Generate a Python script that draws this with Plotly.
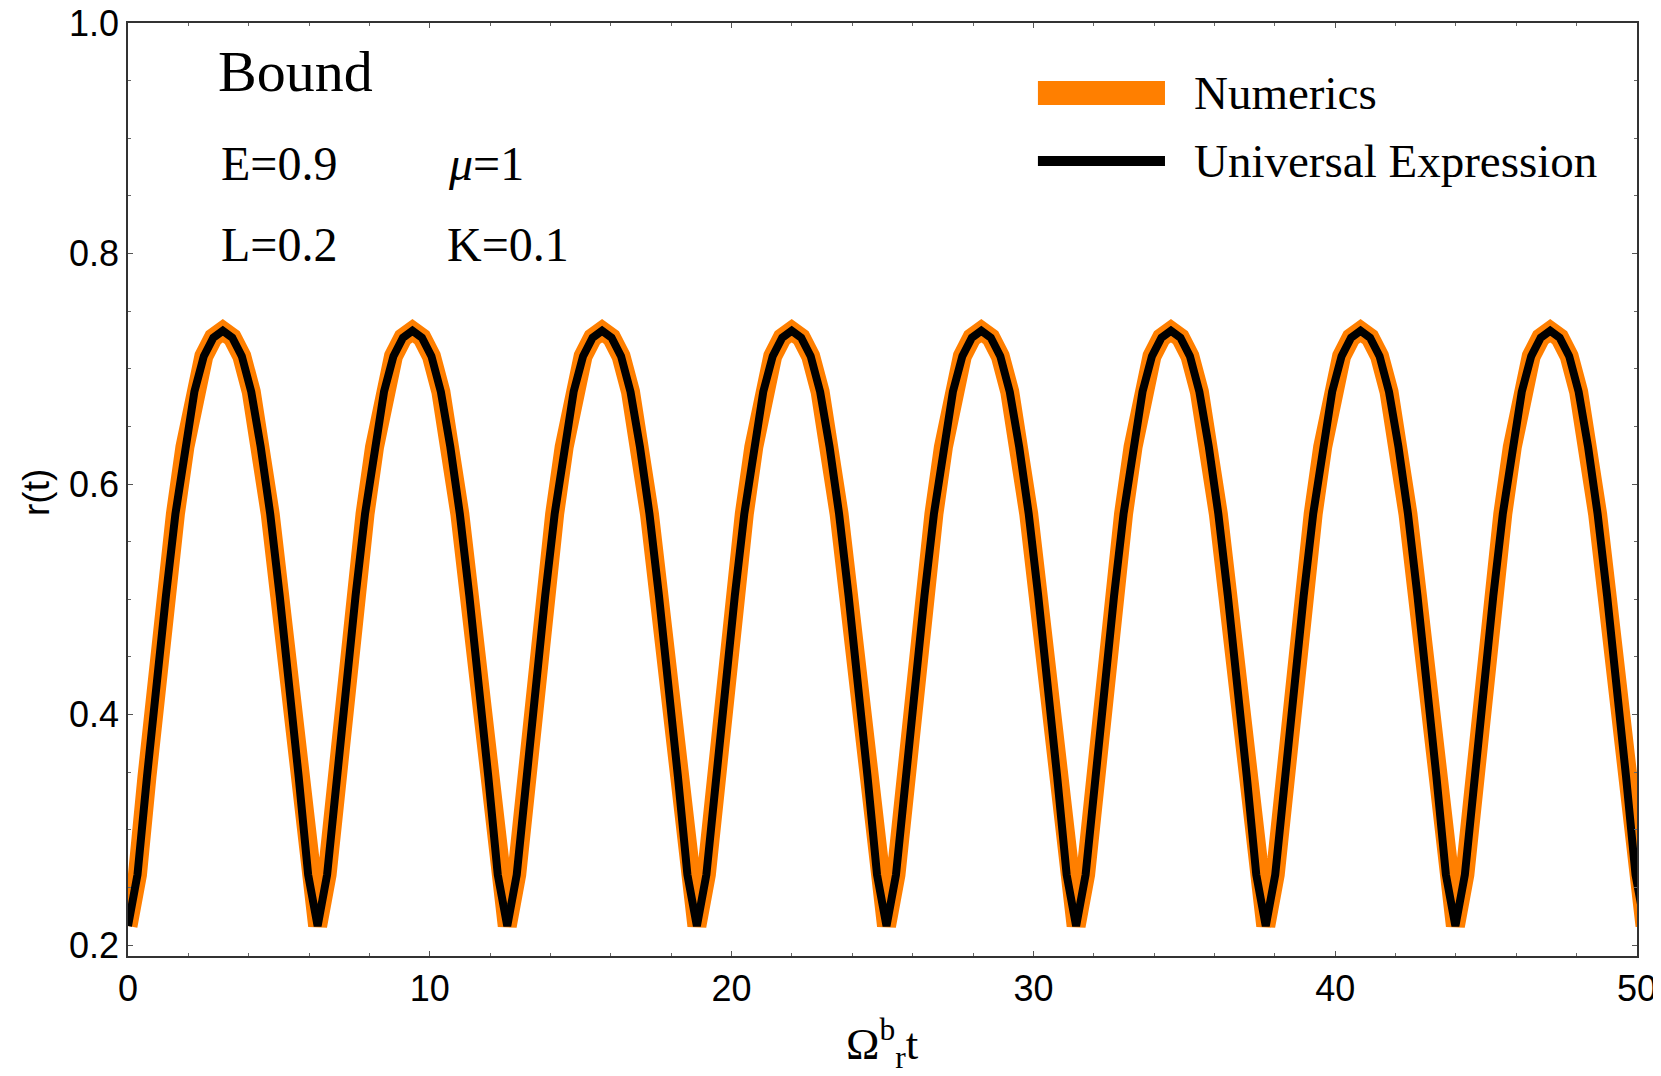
"""Bound orbit r(t): numerical solution vs the universal expression."""

import plotly.graph_objects as go

# sample spacing of both curves along Omega_r^b t (pi/10)
T_STEP = 0.3141593

# r(t), one value per T_STEP starting at t = 0
R_NUMERICS = [
    0.2165, 0.261, 0.346, 0.428, 0.503, 0.574, 0.632, 0.680, 0.711, 0.727,
    0.733, 0.727, 0.711, 0.680, 0.632, 0.574, 0.503, 0.428, 0.346, 0.261,
    0.2165, 0.261, 0.346, 0.428, 0.503, 0.574, 0.632, 0.680, 0.711, 0.727,
    0.733, 0.727, 0.711, 0.680, 0.632, 0.574, 0.503, 0.428, 0.346, 0.261,
    0.2165, 0.261, 0.346, 0.428, 0.503, 0.574, 0.632, 0.680, 0.711, 0.727,
    0.733, 0.727, 0.711, 0.680, 0.632, 0.574, 0.503, 0.428, 0.346, 0.261,
    0.2165, 0.261, 0.346, 0.428, 0.503, 0.574, 0.632, 0.680, 0.711, 0.727,
    0.733, 0.727, 0.711, 0.680, 0.632, 0.574, 0.503, 0.428, 0.346, 0.261,
    0.2165, 0.261, 0.346, 0.428, 0.503, 0.574, 0.632, 0.680, 0.711, 0.727,
    0.733, 0.727, 0.711, 0.680, 0.632, 0.574, 0.503, 0.428, 0.346, 0.261,
    0.2165, 0.261, 0.346, 0.428, 0.503, 0.574, 0.632, 0.680, 0.711, 0.727,
    0.733, 0.727, 0.711, 0.680, 0.632, 0.574, 0.503, 0.428, 0.346, 0.261,
    0.2165, 0.261, 0.346, 0.428, 0.503, 0.574, 0.632, 0.680, 0.711, 0.727,
    0.733, 0.727, 0.711, 0.680, 0.632, 0.574, 0.503, 0.428, 0.346, 0.261,
    0.2165, 0.261, 0.346, 0.428, 0.503, 0.574, 0.632, 0.680, 0.711, 0.727,
    0.733, 0.727, 0.711, 0.680, 0.632, 0.574, 0.503, 0.428, 0.346, 0.261,
    0.2165,
]
R_UNIVERSAL = [
    0.2165, 0.261, 0.346, 0.428, 0.503, 0.574, 0.632, 0.680, 0.711, 0.727,
    0.733, 0.727, 0.711, 0.680, 0.632, 0.574, 0.503, 0.428, 0.346, 0.261,
    0.2165, 0.261, 0.346, 0.428, 0.503, 0.574, 0.632, 0.680, 0.711, 0.727,
    0.733, 0.727, 0.711, 0.680, 0.632, 0.574, 0.503, 0.428, 0.346, 0.261,
    0.2165, 0.261, 0.346, 0.428, 0.503, 0.574, 0.632, 0.680, 0.711, 0.727,
    0.733, 0.727, 0.711, 0.680, 0.632, 0.574, 0.503, 0.428, 0.346, 0.261,
    0.2165, 0.261, 0.346, 0.428, 0.503, 0.574, 0.632, 0.680, 0.711, 0.727,
    0.733, 0.727, 0.711, 0.680, 0.632, 0.574, 0.503, 0.428, 0.346, 0.261,
    0.2165, 0.261, 0.346, 0.428, 0.503, 0.574, 0.632, 0.680, 0.711, 0.727,
    0.733, 0.727, 0.711, 0.680, 0.632, 0.574, 0.503, 0.428, 0.346, 0.261,
    0.2165, 0.261, 0.346, 0.428, 0.503, 0.574, 0.632, 0.680, 0.711, 0.727,
    0.733, 0.727, 0.711, 0.680, 0.632, 0.574, 0.503, 0.428, 0.346, 0.261,
    0.2165, 0.261, 0.346, 0.428, 0.503, 0.574, 0.632, 0.680, 0.711, 0.727,
    0.733, 0.727, 0.711, 0.680, 0.632, 0.574, 0.503, 0.428, 0.346, 0.261,
    0.2165, 0.261, 0.346, 0.428, 0.503, 0.574, 0.632, 0.680, 0.711, 0.727,
    0.733, 0.727, 0.711, 0.680, 0.632, 0.574, 0.503, 0.428, 0.346, 0.261,
    0.2165,
]

SERIES_NAMES = ["Numerics", "Universal Expression"]
PARAM_TEXT = ["E=0.9", "<i>μ</i>=1", "L=0.2", "K=0.1"]

ORANGE = "#ff7f00"
SERIF = "Liberation Serif, Times New Roman, serif"
SANS = "Liberation Sans, Arial, sans-serif"

fig = go.Figure()
fig.add_trace(go.Scatter(
    y=R_NUMERICS, x0=0, dx=T_STEP, mode="lines", name=SERIES_NAMES[0],
    line=dict(color=ORANGE, width=19), showlegend=False,
))
fig.add_trace(go.Scatter(
    y=R_UNIVERSAL, x0=0, dx=T_STEP, mode="lines", name=SERIES_NAMES[1],
    line=dict(color="black", width=8), showlegend=False,
))

# hand-drawn legend with long swatches, as in the original
for name, color, width, y in [(SERIES_NAMES[0], ORANGE, 24, 0.925),
                              (SERIES_NAMES[1], "black", 10, 0.852)]:
    fig.add_shape(type="line", xref="paper", yref="paper", x0=0.603, x1=0.6872,
                  y0=y, y1=y, line=dict(color=color, width=width))
    fig.add_annotation(xref="paper", yref="paper", x=0.7051, y=y, text=name,
                       showarrow=False, xanchor="left", yanchor="middle",
                       font=dict(family=SERIF, size=47, color="black"))

fig.add_annotation(xref="paper", yref="paper", x=0.0583, y=0.9475, text="Bound",
                   showarrow=False, xanchor="left", yanchor="middle",
                   font=dict(family=SERIF, size=58, color="black"))
for text, x, y in zip(PARAM_TEXT, [0.0603, 0.2107, 0.0603, 0.2101],
                      [0.8489, 0.8489, 0.7631, 0.7631]):
    fig.add_annotation(xref="paper", yref="paper", x=x, y=y, text=text,
                       showarrow=False, xanchor="left", yanchor="middle",
                       font=dict(family=SERIF, size=48, color="black"))

# axis titles
fig.add_annotation(xref="paper", yref="paper", x=0.5, y=-0.094,
                   text="Ω<sup>b</sup><sub>r</sub>t", showarrow=False,
                   xanchor="center", yanchor="middle",
                   font=dict(family=SERIF, size=45, color="black"))
fig.add_annotation(xref="paper", yref="paper", x=-0.0603, y=0.4963, text="r(t)",
                   textangle=-90, showarrow=False, xanchor="center", yanchor="middle",
                   font=dict(family=SANS, size=37, color="black"))

axis_common = dict(
    showline=True, mirror="allticks", linecolor="#333", linewidth=1.5,
    ticks="inside", ticklen=5, tickwidth=1.2, tickcolor="#555",
    showgrid=False, zeroline=False, automargin=False,
    ticklabeloverflow="allow", ticklabelstandoff=0,
    tickfont=dict(family=SANS, size=36, color="black"),
)
fig.update_xaxes(
    range=[0, 50], dtick=10, tick0=0,
    minor=dict(dtick=2, ticks="inside", ticklen=3, tickcolor="#666"),
    **axis_common,
)
fig.update_yaxes(
    range=[0.1905, 1.0], dtick=0.2, tick0=0.2, tickformat=".1f",
    minor=dict(dtick=0.05, ticks="inside", ticklen=3, tickcolor="#666"),
    **axis_common,
)
# the page body adds 8px on every side, so the figure is 16px smaller than the window
fig.update_layout(
    width=1645, height=1060,
    margin=dict(l=120, r=16, t=15, b=112),
    paper_bgcolor="white", plot_bgcolor="white",
)
fig.write_html("out.html")
